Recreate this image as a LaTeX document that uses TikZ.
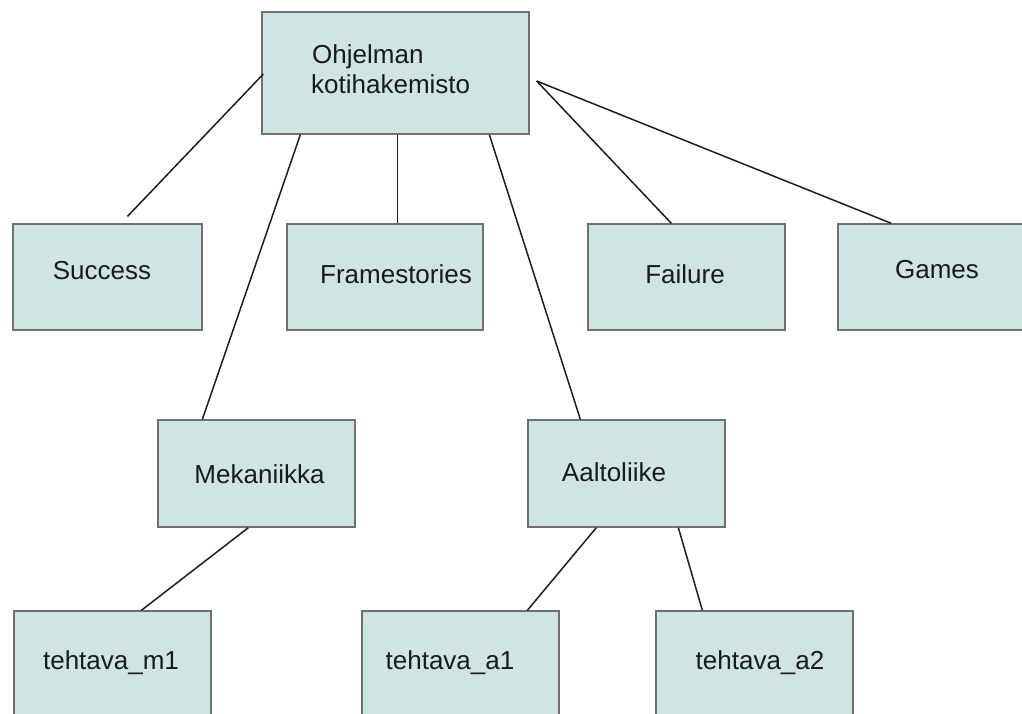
\documentclass[tikz,border=0pt]{standalone}
\usepackage{fontspec}
\setmainfont{Liberation Sans}
\definecolor{boxfill}{HTML}{CFE5E3}
\definecolor{boxline}{HTML}{707070}
\definecolor{conn}{HTML}{1E1E1E}
\definecolor{txt}{HTML}{1A1A1A}
\begin{document}
\begin{tikzpicture}[x=1pt,y=1pt,
  box/.style={draw=boxline,fill=boxfill,line width=1.3pt,inner sep=0pt,minimum height=106pt,minimum width=197pt},
  lbl/.style={text=txt,font=\fontsize{26}{30}\selectfont,inner sep=0pt,anchor=base},
  conline/.style={draw=conn,line width=1.5pt}]
\path[use as bounding box,clip] (0,0) rectangle (1022,-713);
% boxes
\node[box,minimum width=267pt,minimum height=122pt] (root) at (395.5,-73) {};
\node[box,minimum width=189pt] (success) at (107.5,-277) {};
\node[box,minimum width=196pt] (frame) at (385,-277) {};
\node[box] (failure) at (686.5,-277) {};
\node[box] (games) at (936.5,-277) {};
\node[box,minimum height=107pt] (mek) at (256.5,-473.5) {};
\node[box,minimum height=107pt] (aalto) at (626.5,-473.5) {};
\node[box,minimum height=107pt] (m1) at (112.5,-664.5) {};
\node[box,minimum height=107pt] (a1) at (460.5,-664.5) {};
\node[box,minimum height=107pt] (a2) at (754.5,-664.5) {};
% texts
\node[lbl,anchor=base west] (troot1) at (312,-63) {Ohjelman};
\node[lbl,anchor=base west] (troot2) at (311,-93) {kotihakemisto};
\node[lbl] (tsuccess) at (102,-279) {Success};
\node[lbl] (tframe) at (396,-283) {Framestories};
\node[lbl] (tfailure) at (685,-283) {Failure};
\node[lbl] (tgames) at (937,-278) {Games};
\node[lbl] (tmek) at (259.5,-483) {Mekaniikka};
\node[lbl] (taalto) at (614,-481) {Aaltoliike};
\node[lbl] (tm1) at (111,-669) {tehtava\_m1};
\node[lbl] (ta1) at (450,-669) {tehtava\_a1};
\node[lbl] (ta2) at (760,-669) {tehtava\_a2};
% connector end points
\coordinate (rw) at ([xshift=2pt,yshift=-1pt]root.west);
\coordinate (re) at ([xshift=7pt,yshift=-8pt]root.east);
\coordinate (sn) at ([xshift=20pt,yshift=7pt]success.north);
\coordinate (fn) at ([xshift=84pt]failure.north west);
\coordinate (gn) at ([xshift=54pt]games.north west);
% connectors
\draw[conline] (rw) -- (sn);
\draw[conline] ([xshift=39pt]root.south west) -- ([xshift=45pt]mek.north west);
\draw[conline] ([xshift=136pt]root.south west) -- ([xshift=111pt]frame.north west);
\draw[conline] ([xshift=228pt]root.south west) -- ([xshift=53pt]aalto.north west);
\draw[conline] (re) -- (fn);
\draw[conline] (re) -- (gn);
\draw[conline] ([xshift=91pt]mek.south west) -- ([xshift=128pt]m1.north west);
\draw[conline] ([xshift=69pt]aalto.south west) -- ([xshift=166pt]a1.north west);
\draw[conline] ([xshift=151pt]aalto.south west) -- ([xshift=47pt]a2.north west);
\end{tikzpicture}
\end{document}
